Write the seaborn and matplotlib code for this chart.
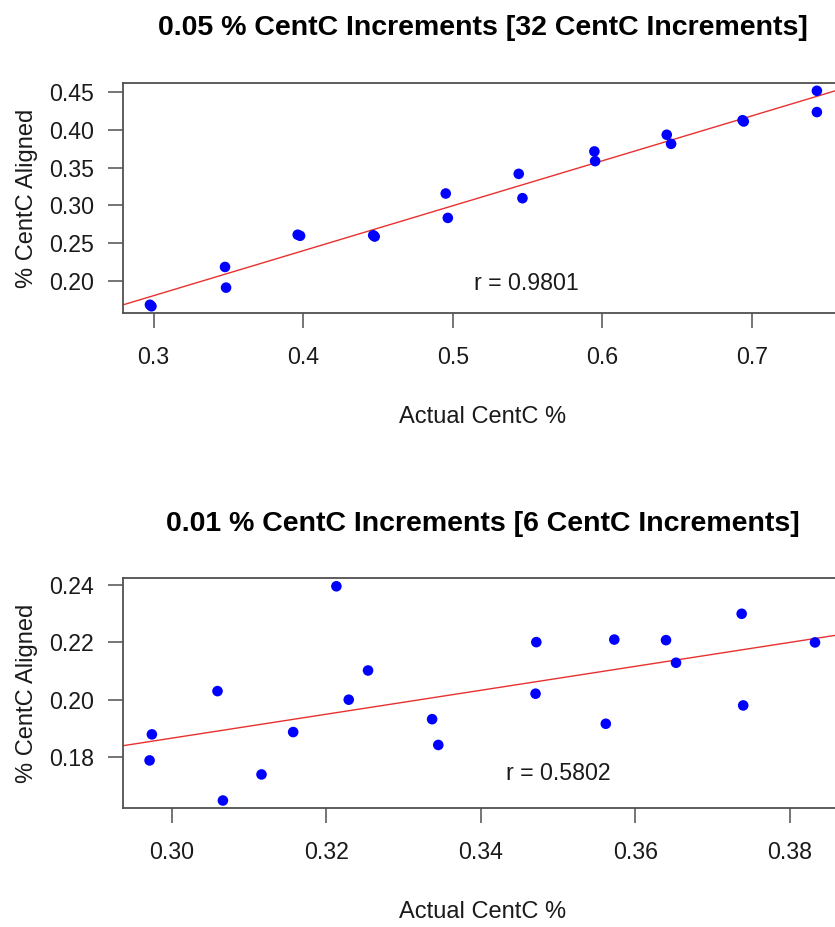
import matplotlib
matplotlib.use("Agg")
import matplotlib.pyplot as plt
import seaborn as sns
import pandas as pd

# ---------------- data ----------------
title_top = "0.05 % CentC Increments [32 CentC Increments]"
title_bot = "0.01 % CentC Increments [6 CentC Increments]"
xlabel = "Actual CentC %"
ylabel = "% CentC Aligned"
r_top = "r = 0.9801"
r_bot = "r = 0.5802"

x_top = [0.2975, 0.2985, 0.3477, 0.3484, 0.3963, 0.3979, 0.4468, 0.4478, 0.4953, 0.4967,
         0.5441, 0.5466, 0.5947, 0.5952, 0.6431, 0.6460, 0.6938, 0.6946, 0.7435, 0.7435]
y_top = [0.1690, 0.1670, 0.2189, 0.1916, 0.2614, 0.2600, 0.2607, 0.2590, 0.3158, 0.2836,
         0.3417, 0.3096, 0.3713, 0.3585, 0.3933, 0.3813, 0.4125, 0.4108, 0.4513, 0.4232]

x_bot = [0.2971, 0.2974, 0.3059, 0.3066, 0.3116, 0.3157, 0.3213, 0.3229, 0.3254, 0.3337,
         0.3345, 0.3472, 0.3471, 0.3562, 0.3573, 0.3640, 0.3653, 0.3738, 0.3740, 0.3833]
y_bot = [0.1788, 0.1879, 0.2030, 0.1648, 0.1739, 0.1887, 0.2396, 0.2000, 0.2102, 0.1932,
         0.1842, 0.2201, 0.2021, 0.1916, 0.2210, 0.2208, 0.2129, 0.2300, 0.1980, 0.2200]

xticks_top = [0.3, 0.4, 0.5, 0.6, 0.7]
xticklabels_top = ["0.3", "0.4", "0.5", "0.6", "0.7"]
yticks_top = [0.20, 0.25, 0.30, 0.35, 0.40, 0.45]
yticklabels_top = ["0.20", "0.25", "0.30", "0.35", "0.40", "0.45"]

xticks_bot = [0.30, 0.32, 0.34, 0.36, 0.38]
xticklabels_bot = ["0.30", "0.32", "0.34", "0.36", "0.38"]
yticks_bot = [0.18, 0.20, 0.22, 0.24]
yticklabels_bot = ["0.18", "0.20", "0.22", "0.24"]

# ---------------- style ----------------
sns.set_theme(style="white")
plt.rcParams["font.family"] = ["Liberation Sans", "DejaVu Sans"]

FRAME = "#505050"
fig = plt.figure(figsize=(8.35, 9.27), dpi=100)

panels = [
    dict(x=x_top, y=y_top, pos=[0.1477, 0.6620, 0.8607, 0.2488],
         xlim=(0.2797, 0.7603), ylim=(0.1577, 0.4620),
         xt=xticks_top, xtl=xticklabels_top, yt=yticks_top, ytl=yticklabels_top,
         title=title_top, r=r_top, rpos=(0.549, 0.1881)),
    dict(x=x_bot, y=y_bot, pos=[0.1477, 0.1281, 0.8607, 0.2481],
         xlim=(0.2937, 0.3868), ylim=(0.1621, 0.2424),
         xt=xticks_bot, xtl=xticklabels_bot, yt=yticks_bot, ytl=yticklabels_bot,
         title=title_bot, r=r_bot, rpos=(0.350, 0.1720)),
]

for p in panels:
    ax = fig.add_axes(p["pos"])
    df = pd.DataFrame({"actual": p["x"], "aligned": p["y"]})
    ax.set_xlim(*p["xlim"])
    ax.set_ylim(*p["ylim"])
    ax.set_autoscale_on(False)
    sns.regplot(data=df, x="actual", y="aligned", ax=ax, ci=None, truncate=False,
                scatter_kws=dict(s=58, color="#0000ff", edgecolor="none", alpha=1, zorder=3),
                line_kws=dict(color="#e8312f", lw=1.0, zorder=2))
    ax.set_xlim(*p["xlim"])
    ax.set_ylim(*p["ylim"])
    ax.set_xticks(p["xt"])
    ax.set_xticklabels(p["xtl"])
    ax.set_yticks(p["yt"])
    ax.set_yticklabels(p["ytl"])
    for s in ax.spines.values():
        s.set_visible(True)
        s.set_color(FRAME)
        s.set_linewidth(1.3)
    ax.tick_params(axis="both", which="major", direction="out", length=10.8, width=1.1,
                   color=FRAME, labelsize=16.7, labelcolor="#1a1a1a",
                   bottom=True, left=True)
    ax.tick_params(axis="x", pad=12.7)
    ax.tick_params(axis="y", pad=10.5)
    ax.set_xlabel(xlabel, fontsize=17, color="#1a1a1a", labelpad=27)
    ax.set_ylabel(ylabel, fontsize=17, color="#1a1a1a", labelpad=8)
    ax.set_title(p["title"], fontsize=20.5, fontweight="bold", color="black", pad=34)
    ax.text(p["rpos"][0], p["rpos"][1], p["r"], fontsize=16.7, color="#1a1a1a",
            ha="center", va="baseline")

fig.savefig("out.png", dpi=100)
